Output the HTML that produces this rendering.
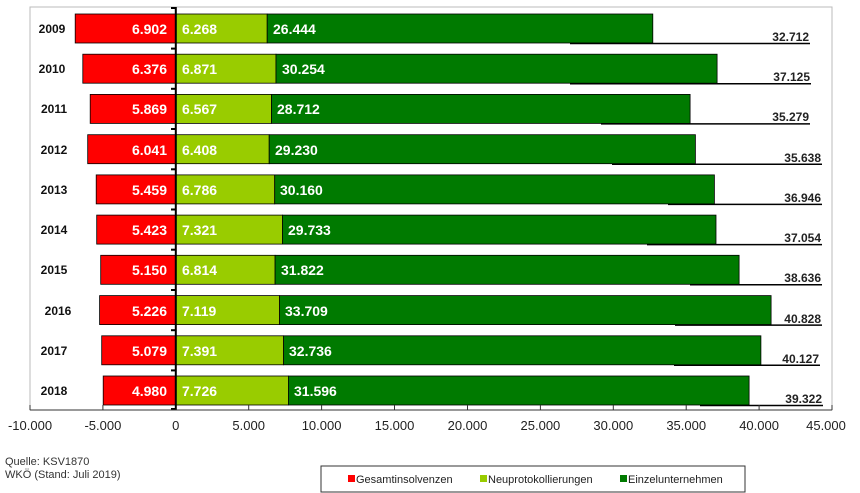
<!DOCTYPE html><html><head><style>body{margin:0;background:#fff}svg{display:block;font-family:"Liberation Sans",Arial,sans-serif}</style></head><body>
<svg width="860" height="493" viewBox="0 0 860 493">
<rect x="30" y="7" width="802" height="403" fill="#fff" stroke="#bbb" stroke-width="1"/>
<g stroke="#000" stroke-width="0.8">
<rect x="75.2" y="14" width="100.6" height="29" fill="#f00"/><rect x="175.8" y="14" width="91.4" height="29" fill="#99cc00"/><rect x="267.2" y="14" width="385.6" height="29" fill="#007a00"/>
<rect x="82.8" y="54.2" width="93" height="29" fill="#f00"/><rect x="175.8" y="54.2" width="100.2" height="29" fill="#99cc00"/><rect x="276" y="54.2" width="441.1" height="29" fill="#007a00"/>
<rect x="90.2" y="94.4" width="85.6" height="29" fill="#f00"/><rect x="175.8" y="94.4" width="95.7" height="29" fill="#99cc00"/><rect x="271.5" y="94.4" width="418.6" height="29" fill="#007a00"/>
<rect x="87.7" y="134.7" width="88.1" height="29" fill="#f00"/><rect x="175.8" y="134.7" width="93.4" height="29" fill="#99cc00"/><rect x="269.2" y="134.7" width="426.2" height="29" fill="#007a00"/>
<rect x="96.2" y="174.9" width="79.6" height="29" fill="#f00"/><rect x="175.8" y="174.9" width="98.9" height="29" fill="#99cc00"/><rect x="274.7" y="174.9" width="439.7" height="29" fill="#007a00"/>
<rect x="96.7" y="215.1" width="79.1" height="29" fill="#f00"/><rect x="175.8" y="215.1" width="106.7" height="29" fill="#99cc00"/><rect x="282.5" y="215.1" width="433.5" height="29" fill="#007a00"/>
<rect x="100.7" y="255.3" width="75.1" height="29" fill="#f00"/><rect x="175.8" y="255.3" width="99.3" height="29" fill="#99cc00"/><rect x="275.1" y="255.3" width="464" height="29" fill="#007a00"/>
<rect x="99.6" y="295.6" width="76.2" height="29" fill="#f00"/><rect x="175.8" y="295.6" width="103.8" height="29" fill="#99cc00"/><rect x="279.6" y="295.6" width="491.5" height="29" fill="#007a00"/>
<rect x="101.7" y="335.8" width="74.1" height="29" fill="#f00"/><rect x="175.8" y="335.8" width="107.8" height="29" fill="#99cc00"/><rect x="283.6" y="335.8" width="477.3" height="29" fill="#007a00"/>
<rect x="103.2" y="376" width="72.6" height="29" fill="#f00"/><rect x="175.8" y="376" width="112.6" height="29" fill="#99cc00"/><rect x="288.4" y="376" width="460.7" height="29" fill="#007a00"/>
</g>
<g stroke="#000" stroke-width="1.5">
<line x1="570" y1="43.5" x2="810" y2="43.5"/><line x1="570" y1="83.7" x2="811" y2="83.7"/><line x1="601" y1="123.9" x2="810" y2="123.9"/><line x1="612" y1="164.2" x2="822" y2="164.2"/><line x1="668" y1="204.4" x2="822" y2="204.4"/><line x1="647" y1="244.6" x2="822" y2="244.6"/><line x1="690" y1="284.8" x2="822" y2="284.8"/><line x1="675" y1="325.1" x2="822" y2="325.1"/><line x1="674" y1="365.3" x2="820" y2="365.3"/><line x1="700" y1="405.5" x2="823" y2="405.5"/>
</g>
<g font-size="12" font-weight="bold" fill="#222" text-anchor="end">
<text x="809" y="41">32.712</text><text x="810" y="81">37.125</text><text x="809" y="121">35.279</text><text x="821" y="162">35.638</text><text x="821" y="202">36.946</text><text x="821" y="242">37.054</text><text x="821" y="282">38.636</text><text x="821" y="323">40.828</text><text x="819" y="363">40.127</text><text x="822" y="403">39.322</text>
</g>
<g font-size="12" font-weight="bold" fill="#111" text-anchor="middle">
<text x="52" y="33">2009</text><text x="52" y="73">2010</text><text x="54" y="113">2011</text><text x="54" y="154">2012</text><text x="54" y="194">2013</text><text x="54" y="234">2014</text><text x="54" y="274">2015</text><text x="58" y="315">2016</text><text x="54" y="355">2017</text><text x="54" y="395">2018</text>
</g>
<g font-size="14" font-weight="bold" fill="#fff">
<g text-anchor="end"><text x="167" y="34">6.902</text><text x="167" y="74">6.376</text><text x="167" y="114">5.869</text><text x="167" y="155">6.041</text><text x="167" y="195">5.459</text><text x="167" y="235">5.423</text><text x="167" y="275">5.150</text><text x="167" y="316">5.226</text><text x="167" y="356">5.079</text><text x="167" y="396">4.980</text></g>
<text x="182" y="34">6.268</text><text x="182" y="74">6.871</text><text x="182" y="114">6.567</text><text x="182" y="155">6.408</text><text x="182" y="195">6.786</text><text x="182" y="235">7.321</text><text x="182" y="275">6.814</text><text x="182" y="316">7.119</text><text x="182" y="356">7.391</text><text x="182" y="396">7.726</text>
<text x="273" y="34">26.444</text><text x="282" y="74">30.254</text><text x="277" y="114">28.712</text><text x="275" y="155">29.230</text><text x="280" y="195">30.160</text><text x="288" y="235">29.733</text><text x="281" y="275">31.822</text><text x="285" y="316">33.709</text><text x="289" y="356">32.736</text><text x="294" y="396">31.596</text>
</g>
<line x1="175.8" y1="7" x2="175.8" y2="410" stroke="#000" stroke-width="2"/>
<g stroke="#000" stroke-width="2"><line x1="171" y1="8" x2="176" y2="8"/><line x1="171" y1="48.6" x2="176" y2="48.6"/><line x1="171" y1="88.8" x2="176" y2="88.8"/><line x1="171" y1="129" x2="176" y2="129"/><line x1="171" y1="169.3" x2="176" y2="169.3"/><line x1="171" y1="209.5" x2="176" y2="209.5"/><line x1="171" y1="249.7" x2="176" y2="249.7"/><line x1="171" y1="290" x2="176" y2="290"/><line x1="171" y1="330.2" x2="176" y2="330.2"/><line x1="171" y1="370.4" x2="176" y2="370.4"/><line x1="171" y1="409" x2="176" y2="409"/></g>
<line x1="30" y1="410" x2="832" y2="410" stroke="#333" stroke-width="1"/>
<g stroke="#333"><line x1="30" y1="405" x2="30" y2="410"/><line x1="102.9" y1="405" x2="102.9" y2="410"/><line x1="248.7" y1="405" x2="248.7" y2="410"/><line x1="321.6" y1="405" x2="321.6" y2="410"/><line x1="394.5" y1="405" x2="394.5" y2="410"/><line x1="467.5" y1="405" x2="467.5" y2="410"/><line x1="540.4" y1="405" x2="540.4" y2="410"/><line x1="613.3" y1="405" x2="613.3" y2="410"/><line x1="686.2" y1="405" x2="686.2" y2="410"/><line x1="759.1" y1="405" x2="759.1" y2="410"/><line x1="832" y1="405" x2="832" y2="410"/></g>
<g font-size="13" fill="#222" text-anchor="middle">
<text x="30" y="430">-10.000</text><text x="102.9" y="430">-5.000</text><text x="175.8" y="430">0</text><text x="248.7" y="430">5.000</text><text x="321.6" y="430">10.000</text><text x="394.5" y="430">15.000</text><text x="467.5" y="430">20.000</text><text x="540.4" y="430">25.000</text><text x="613.3" y="430">30.000</text><text x="686.2" y="430">35.000</text><text x="759.1" y="430">40.000</text><text x="826" y="430">45.000</text>
</g>
<g font-size="11" fill="#333"><text x="5" y="465">Quelle: KSV1870</text><text x="5" y="478">WKÖ (Stand: Juli 2019)</text></g>
<rect x="321" y="466" width="424" height="26" fill="#fff" stroke="#333"/>
<g font-size="11" fill="#222">
<rect x="348" y="475" width="7" height="7" fill="#f00"/><text x="356" y="483">Gesamtinsolvenzen</text>
<rect x="480" y="475" width="7" height="7" fill="#99cc00"/><text x="488" y="483">Neuprotokollierungen</text>
<rect x="620" y="475" width="7" height="7" fill="#007a00"/><text x="628" y="483">Einzelunternehmen</text>
</g>
</svg></body></html>
